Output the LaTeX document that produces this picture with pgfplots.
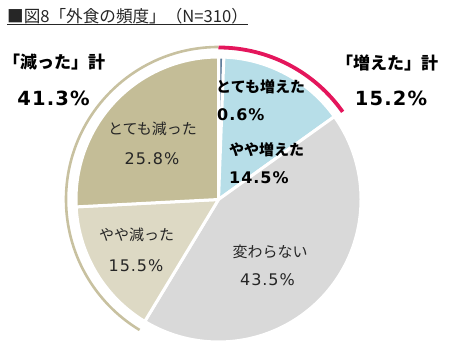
\documentclass[border=0pt]{standalone}
\usepackage{pgfplots}
\pgfplotsset{compat=1.18}
\usepackage{fontspec}
\setmainfont{DejaVu Sans}
\newfontfamily\jp{Noto Sans CJK JP}
\newfontfamily\num[LetterSpace=6]{DejaVu Sans}
\definecolor{cA}{RGB}{95,125,155}
\definecolor{cB}{RGB}{183,222,232}
\definecolor{cC}{RGB}{217,217,217}
\definecolor{cD}{RGB}{221,217,196}
\definecolor{cE}{RGB}{196,189,151}
\definecolor{arcO}{RGB}{200,193,160}
\definecolor{arcP}{RGB}{228,22,92}
\definecolor{txt}{RGB}{38,38,38}
\begin{document}
\begin{tikzpicture}
\begin{axis}[
  scale only axis, width=450pt, height=352pt,
  xmin=0, xmax=450, ymin=0, ymax=352,
  hide axis, clip=false]
\path (axis cs:0,0) rectangle (axis cs:450,352);
% shares (%) clockwise from the top: とても増えた, やや増えた, 変わらない, やや減った, とても減った
\pgfplotsextra{
  \xdef\cum{0}
  \foreach \v/\cc in {0.6/cA,14.5/cB,43.5/cC,15.5/cD,25.8/cE}{
    \pgfmathsetmacro\sa{90-\cum/99.9*360}
    \pgfmathsetmacro\sb{90-(\cum+\v)/99.9*360}
    \fill[\cc,draw=white,line width=3pt,line join=round]
      (axis cs:218.5,152.5) -- ++(\sa:142.5pt) arc[start angle=\sa,end angle=\sb,radius=142.5pt] -- cycle;
    \pgfmathsetmacro\newcum{\cum+\v}
    \xdef\cum{\newcum}
  }
  % totals: 減った 41.3, 増えた 15.2
  \pgfmathsetmacro\dec{90+41.3/99.9*360}
  \draw[arcO,line width=2.6pt] (axis cs:218.5,152.5) ++(90:152.5pt) arc[start angle=90,end angle=\dec,radius=152.5pt];
  \pgfmathsetmacro\inc{90-15.2/99.9*360}
  \draw[arcP,line width=3.8pt] (axis cs:218.5,152.5) ++(90:152pt) arc[start angle=90,end angle=\inc,radius=152pt];
}
% title
\node[anchor=west,inner sep=0pt,font=\jp\fontsize{16.6}{18}\selectfont,text=txt] (t) at (axis cs:7,335.5) {■図8「外食の頻度」（N=310）};
\draw[txt,line width=0.8pt] (axis cs:7,328) -- (axis cs:248,328);
% inner labels
\node[anchor=west,inner sep=0pt,font=\jp\bfseries\fontsize{15}{16}\selectfont] at (axis cs:216,265.3) {とても増えた};
\node[anchor=west,inner sep=0pt,font=\num\bfseries\fontsize{16}{16}\selectfont] at (axis cs:217,237) {0.6\%};
\node[anchor=west,inner sep=0pt,font=\jp\bfseries\fontsize{15}{16}\selectfont] at (axis cs:229,202) {やや増えた};
\node[anchor=west,inner sep=0pt,font=\num\bfseries\fontsize{16}{16}\selectfont] at (axis cs:229,174.3) {14.5\%};
\node[inner sep=0pt,text=txt,font=\jp\fontsize{15}{16}\selectfont] at (axis cs:152.5,222.7) {とても減った};
\node[inner sep=0pt,text=txt,font=\num\fontsize{16}{16}\selectfont] at (axis cs:152,193.7) {25.8\%};
\node[inner sep=0pt,text=txt,font=\jp\fontsize{15}{16}\selectfont] at (axis cs:136.5,117) {やや減った};
\node[inner sep=0pt,text=txt,font=\num\fontsize{16}{16}\selectfont] at (axis cs:136,86) {15.5\%};
\node[inner sep=0pt,text=txt,font=\jp\fontsize{15}{16}\selectfont] at (axis cs:270,100.3) {変わらない};
\node[inner sep=0pt,text=txt,font=\num\fontsize{16}{16}\selectfont] at (axis cs:267.5,72.7) {43.5\%};
% totals labels
\node[inner sep=0pt,font=\jp\bfseries\fontsize{17}{18}\selectfont] at (axis cs:54,290.3) {「減った」計};
\node[inner sep=0pt,font=\num\bfseries\fontsize{19.5}{20}\selectfont] at (axis cs:53.5,253.7) {41.3\%};
\node[inner sep=0pt,font=\jp\bfseries\fontsize{17}{18}\selectfont] at (axis cs:387,288.7) {「増えた」計};
\node[inner sep=0pt,font=\num\bfseries\fontsize{19.5}{20}\selectfont] at (axis cs:391,253.7) {15.2\%};
\end{axis}
\end{tikzpicture}
\end{document}
